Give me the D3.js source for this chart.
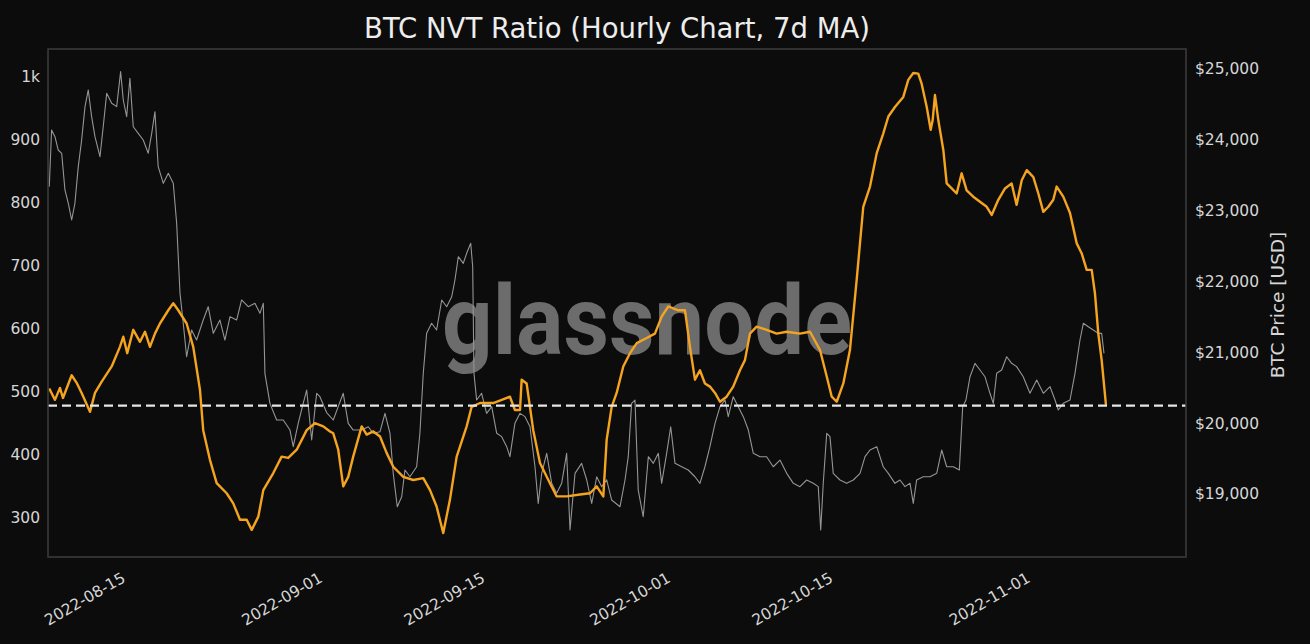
<!DOCTYPE html>
<html><head><meta charset="utf-8">
<script src="https://cdn.jsdelivr.net/npm/d3@7"></script>
<style>
html,body{margin:0;padding:0;background:#0c0c0c;}
svg{display:block;}
</style></head>
<body>
<svg id="chart" width="1310" height="644"></svg>
<script>
// ---- data (day offsets relative to 2022-08-15 00:00 UTC) ----
const baseDate = "2022-08-15T00:00:00Z";
const title = "BTC NVT Ratio (Hourly Chart, 7d MA)";
const rightAxisLabel = "BTC Price [USD]";
const watermark = "glassnode";
const xTickLabels = ["2022-08-15","2022-09-01","2022-09-15","2022-10-01","2022-10-15","2022-11-01"];
const nvtTicks = [300,400,500,600,700,800,900,1000];
const priceTicks = [19000,20000,21000,22000,23000,24000,25000];
const nvtDomain = [238, 1043];
const priceDomain = [18111, 25282];
const dayDomain = [-6.72, 91.38];
const referenceLevel = 478;

const nvtSeries = [
[-6.61,505],[-6.12,487],[-5.69,506],[-5.43,490],[-4.68,526],[-4.25,514],[-3.82,498],[-3.10,468],[-2.67,498],[-2.09,516],
[-1.23,540],[-0.52,571],[-0.23,587],[0.11,561],[0.63,598],[1.21,579],[1.64,595],[2.07,571],[2.50,592],[2.93,608],
[3.65,629],[4.08,640],[4.51,629],[5.23,608],[5.80,571],[6.38,503],[6.66,439],[7.24,392],[7.82,355],[8.68,339],
[9.25,323],[9.83,297],[10.41,297],[10.84,281],[11.41,302],[11.84,344],[12.70,371],[13.42,397],[13.99,395],[14.72,408],
[15.58,439],[16.29,450],[17.01,445],[17.59,437],[17.87,434],[18.30,408],[18.73,350],[19.16,365],[19.59,397],[20.32,445],
[20.75,432],[21.32,437],[21.90,429],[22.47,403],[23.04,381],[23.91,365],[24.77,360],[25.63,363],[26.21,344],[26.78,318],
[27.35,276],[27.93,329],[28.51,397],[29.37,445],[29.80,476],[30.52,482],[31.66,482],[32.39,487],[33.10,492],[33.53,471],
[33.97,471],[34.11,519],[34.54,513],[35.11,439],[35.69,387],[36.55,355],[37.13,334],[37.99,334],[39.14,337],[40.00,339],
[40.58,350],[41.15,334],[41.44,424],[41.87,476],[42.30,498],[42.87,540],[43.45,561],[44.03,577],[44.89,585],[45.60,592],
[46.18,619],[46.75,635],[47.61,629],[48.19,629],[48.62,571],[49.05,519],[49.48,534],[49.91,513],[50.34,508],[50.78,498],
[51.21,484],[51.78,492],[52.35,508],[52.93,534],[53.36,550],[53.79,592],[54.37,603],[55.23,598],[56.09,592],[56.96,595],
[58.10,592],[58.97,595],[59.83,566],[60.41,524],[60.84,492],[61.27,484],[61.84,513],[62.41,566],[62.99,677],[63.56,793],
[64.14,825],[64.72,878],[65.28,909],[65.72,936],[66.29,951],[67.01,967],[67.44,994],[67.87,1005],[68.30,1004],[68.59,988],
[69.03,951],[69.37,915],[69.54,930],[69.74,970],[70.03,930],[70.46,883],[70.75,830],[71.18,822],[71.61,814],[72.04,846],
[72.47,819],[73.04,809],[73.62,801],[74.20,793],[74.63,780],[75.20,804],[75.78,822],[76.35,830],[76.78,796],[77.22,835],
[77.65,851],[78.22,840],[78.65,814],[79.08,785],[79.51,793],[79.94,804],[80.23,825],[80.80,809],[81.38,783],[81.96,735],
[82.39,719],[82.82,693],[83.25,693],[83.53,656],[83.82,592],[84.11,550],[84.48,479]
];

const priceSeries = [
[-6.61,23338],[-6.41,24139],[-6.12,24044],[-5.84,23856],[-5.54,23810],[-5.26,23292],[-4.97,23104],[-4.68,22868],[-4.40,23104],[-4.11,23621],
[-3.82,23998],[-3.53,24468],[-3.25,24704],[-2.96,24327],[-2.67,24044],[-2.24,23762],[-1.96,24185],[-1.66,24657],[-1.23,24516],[-0.80,24468],
[-0.46,24962],[-0.23,24562],[0.06,24327],[0.34,24869],[0.63,24185],[1.06,24092],[1.49,23998],[1.92,23810],[2.22,24092],[2.50,24397],
[2.78,23621],[3.22,23386],[3.65,23527],[4.08,23386],[4.37,22822],[4.66,21833],[4.94,21410],[5.23,20938],[5.66,21315],[6.09,21174],
[6.66,21456],[7.09,21644],[7.53,21268],[8.10,21456],[8.53,21174],[8.97,21503],[9.54,21456],[9.97,21739],[10.54,21644],[11.12,21692],
[11.55,21551],[11.84,21692],[11.98,20704],[12.41,20280],[12.99,20045],[13.56,20045],[14.14,19903],[14.42,19668],[14.85,19998],[15.28,20280],
[15.58,20468],[16.01,19762],[16.44,20422],[16.72,20374],[17.30,20150],[17.87,20045],[18.30,20233],[18.73,20422],[19.16,19998],[19.59,19903],
[20.32,19903],[20.89,19950],[21.32,19857],[21.90,19880],[22.33,20139],[22.76,19857],[23.04,19292],[23.39,18821],[23.77,18962],[24.05,19339],
[24.48,19244],[25.06,19385],[25.34,19857],[25.63,20704],[25.92,21268],[26.35,21410],[26.78,21315],[27.22,21739],[27.65,21644],[28.08,21785],
[28.36,22021],[28.65,22350],[29.08,22257],[29.37,22398],[29.72,22539],[29.89,22209],[30.00,20704],[30.23,20327],[30.66,20422],[31.09,20139],
[31.53,20233],[31.96,19857],[32.39,19810],[32.82,19668],[33.10,19527],[33.53,19998],[33.97,20139],[34.40,20092],[34.83,19950],[35.26,19385],
[35.54,18868],[35.84,19292],[36.27,19574],[36.70,19151],[37.13,19010],[37.56,19151],[37.99,19574],[38.28,18492],[38.71,19292],[39.28,19433],
[39.72,19198],[40.15,18868],[40.58,19244],[41.01,19104],[41.44,19200],[41.87,18915],[42.59,18821],[43.02,19198],[43.30,19527],[43.59,20280],
[43.88,20327],[44.16,19056],[44.59,18679],[45.03,19527],[45.46,19433],[45.89,19574],[46.18,19151],[46.61,19574],[46.96,19950],[47.33,19433],
[47.91,19385],[48.47,19339],[49.05,19244],[49.48,19151],[49.91,19385],[50.34,19668],[50.78,19998],[51.21,20233],[51.64,20327],[51.92,20092],
[52.35,20374],[52.78,20233],[53.22,20092],[53.65,19903],[54.08,19574],[54.66,19527],[55.23,19527],[55.80,19385],[56.38,19480],[56.96,19292],
[57.53,19151],[58.10,19104],[58.68,19198],[59.25,19151],[59.68,19104],[59.89,18492],[60.11,19151],[60.41,19857],[60.69,19810],[60.97,19292],
[61.55,19198],[62.13,19151],[62.70,19198],[63.28,19292],[63.71,19527],[64.14,19621],[64.72,19668],[65.28,19385],[65.72,19292],[66.29,19151],
[66.72,19198],[67.16,19104],[67.59,19151],[67.87,18868],[68.16,19198],[68.73,19244],[69.31,19244],[69.89,19292],[70.32,19621],[70.75,19385],
[71.32,19385],[71.84,19339],[72.13,20233],[72.41,20327],[72.76,20656],[73.19,20845],[73.62,20751],[74.05,20656],[74.48,20422],[74.77,20280],
[75.06,20704],[75.49,20751],[75.92,20938],[76.35,20845],[76.78,20798],[77.35,20656],[77.93,20422],[78.51,20609],[79.08,20422],[79.66,20515],
[80.09,20327],[80.37,20186],[80.80,20280],[81.38,20327],[81.81,20704],[82.24,21174],[82.53,21410],[82.96,21362],[83.39,21315],[83.82,21268],
[84.11,21268],[84.31,20986]
];

// ---- layout ----
const W = 1310, H = 644;
const m = {left:48, right:1186, top:49, bottom:557};
const FONT = "'DejaVu Sans', sans-serif";
const svg = d3.select("#chart");
svg.append("rect").attr("width",W).attr("height",H).attr("fill","#0c0c0c");

const base = new Date(baseDate);
const toDate = d => new Date(base.getTime() + d*86400000);

const x = d3.scaleUtc().domain(dayDomain.map(toDate)).range([m.left, m.right]);
const yL = d3.scaleLinear().domain(nvtDomain).range([m.bottom, m.top]);
const yR = d3.scaleLinear().domain(priceDomain).range([m.bottom, m.top]);

// title
svg.append("text").attr("x",(m.left+m.right)/2).attr("y",38)
  .attr("text-anchor","middle").attr("fill","#ededed")
  .style("font-family",FONT).style("font-size","27.5px").text(title);

// watermark
svg.append("text").attr("x",647).attr("y",354).attr("text-anchor","middle")
  .attr("fill","#6c6c6c")
  .style("font-family","Roboto, 'Open Sans', sans-serif")
  .style("font-size","96px").style("font-weight","700")
  .attr("textLength",410).attr("lengthAdjust","spacingAndGlyphs")
  .text(watermark);

// price line
svg.append("path").datum(priceSeries)
  .attr("fill","none").attr("stroke","#959595").attr("stroke-width",1.1).attr("stroke-linejoin","round")
  .attr("d", d3.line().x(d=>x(toDate(d[0]))).y(d=>yR(d[1])));

// nvt line
svg.append("path").datum(nvtSeries)
  .attr("fill","none").attr("stroke","#f5a41f").attr("stroke-width",2.4).attr("stroke-linejoin","round")
  .attr("d", d3.line().x(d=>x(toDate(d[0]))).y(d=>yL(d[1])));

// reference dashed line
svg.append("line").attr("x1",m.left).attr("x2",m.right)
  .attr("y1",yL(referenceLevel)).attr("y2",yL(referenceLevel))
  .attr("stroke","#e6e6e6").attr("stroke-width",2.2).attr("stroke-dasharray","9,5");

// frame
svg.append("rect").attr("x",m.left).attr("y",m.top).attr("width",m.right-m.left).attr("height",m.bottom-m.top)
  .attr("fill","none").attr("stroke","#3c3c3c").attr("stroke-width",1.5);

// left axis
const axL = svg.append("g").attr("transform",`translate(${m.left},0)`)
  .call(d3.axisLeft(yL).tickValues(nvtTicks).tickSize(0).tickPadding(8)
    .tickFormat(v => v>=1000 ? (v/1000)+"k" : v));
axL.select(".domain").remove();
axL.selectAll("text").attr("fill","#d6d6d6").style("font-size","15.5px").style("font-family",FONT);

// right axis
const fmt = d3.format(",");
const axR = svg.append("g").attr("transform",`translate(${m.right},0)`)
  .call(d3.axisRight(yR).tickValues(priceTicks).tickSize(0).tickPadding(9)
    .tickFormat(v => "$"+fmt(v)));
axR.select(".domain").remove();
axR.selectAll("text").attr("fill","#d6d6d6").style("font-size","15.5px").style("font-family",FONT);

svg.append("text").attr("transform",`translate(1284,305) rotate(-90)`)
  .attr("text-anchor","middle").attr("fill","#d6d6d6")
  .style("font-family",FONT).style("font-size","18.5px").text(rightAxisLabel);

// bottom axis
const parse = d3.utcParse("%Y-%m-%d");
const axB = svg.append("g").attr("transform",`translate(0,${m.bottom})`)
  .call(d3.axisBottom(x).tickValues(xTickLabels.map(parse)).tickSize(0).tickFormat(d3.utcFormat("%Y-%m-%d")));
axB.select(".domain").remove();
axB.selectAll("text")
  .attr("fill","#d6d6d6").style("font-size","15.5px").style("font-family",FONT)
  .attr("text-anchor","end").attr("dy",null).attr("y",null)
  .attr("transform","translate(0,24) rotate(-30)");
</script>
</body></html>
